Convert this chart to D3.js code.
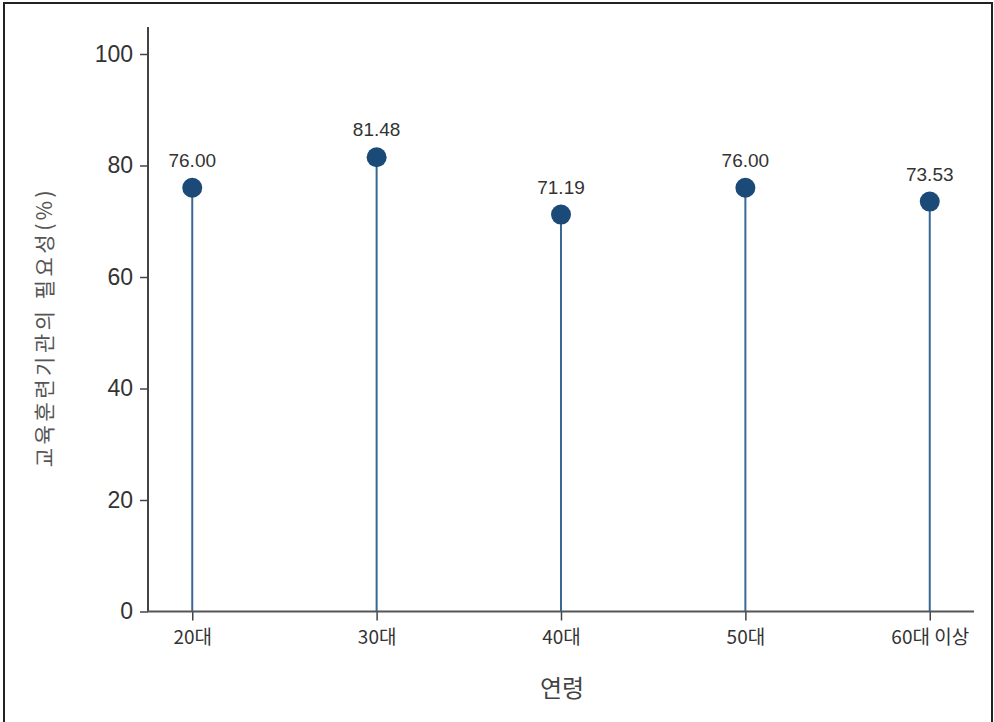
<!DOCTYPE html>
<html><head><meta charset="utf-8">
<script src="https://cdn.jsdelivr.net/npm/d3@7"></script>
<style>body{margin:0;background:#fff}svg{display:block}</style>
</head><body>
<script>
const categories = ["20대", "30대", "40대", "50대", "60대 이상"];
const values = [76.00, 81.48, 71.19, 76.00, 73.53];
const yTicks = [0, 20, 40, 60, 80, 100];
const xTitle = "연령";
const yTitle = "교육훈련기관의 필요성(%)";

const W = 994, H = 722;
const svg = d3.select("body").append("svg").attr("width", W).attr("height", H);

svg.append("rect").attr("x", 4).attr("y", 3).attr("width", 988).attr("height", 730)
  .attr("fill", "none").attr("stroke", "#222").attr("stroke-width", 2);

const x0 = 148, x1 = 974, yB = 611.5;
const y = d3.scaleLinear().domain([0, 100]).range([yB, 54]);
const x = d3.scalePoint().domain(categories).range([x0, x1]).padding(0.24);

const data = categories.map((c, i) => ({c, v: values[i]}));

// stems
svg.selectAll(".stem").data(data).join("line")
  .attr("x1", d => x(d.c)).attr("x2", d => x(d.c))
  .attr("y1", d => y(d.v)).attr("y2", yB)
  .attr("stroke", "#3a6894").attr("stroke-width", 2);

// y axis
const ya = svg.append("g").attr("transform", `translate(${x0},0)`)
  .call(d3.axisLeft(y).tickValues(yTicks).tickSize(8).tickPadding(7).tickSizeOuter(0));
ya.select(".domain").remove();
ya.selectAll("line").attr("stroke", "#444").attr("stroke-width", 1.5);
ya.selectAll("text").attr("font-family", "'Liberation Sans', Arial, sans-serif")
  .attr("font-size", 23).attr("fill", "#333");
svg.append("line").attr("x1", x0).attr("x2", x0).attr("y1", 27).attr("y2", yB)
  .attr("stroke", "#444").attr("stroke-width", 2);

// x axis
const xa = svg.append("g").attr("transform", `translate(0,${yB})`)
  .call(d3.axisBottom(x).tickSize(9).tickPadding(10).tickSizeOuter(0));
xa.select(".domain").remove();
xa.selectAll("line").attr("stroke", "#444").attr("stroke-width", 1.5);
xa.selectAll("text").attr("font-family", "'Noto Sans CJK KR', sans-serif")
  .attr("font-size", 19).attr("fill", "#333");
svg.append("line").attr("x1", x0).attr("x2", x1).attr("y1", yB).attr("y2", yB)
  .attr("stroke", "#555").attr("stroke-width", 2);

// dots
svg.selectAll(".dot").data(data).join("circle")
  .attr("cx", d => x(d.c)).attr("cy", d => y(d.v)).attr("r", 10)
  .attr("fill", "#1b4a79");

// labels
svg.selectAll(".lbl").data(data).join("text")
  .attr("x", d => x(d.c)).attr("y", d => y(d.v) - 21)
  .attr("text-anchor", "middle")
  .attr("font-family", "'Liberation Sans', Arial, sans-serif")
  .attr("font-size", 19).attr("fill", "#333")
  .text(d => d.v.toFixed(2));

// titles
svg.append("text").attr("x", 562).attr("y", 697).attr("text-anchor", "middle")
  .attr("font-family", "'Noto Sans CJK KR', sans-serif").attr("font-size", 24)
  .attr("fill", "#444").text(xTitle);
svg.append("text").attr("transform", "translate(52,327) rotate(-90)")
  .attr("text-anchor", "middle")
  .attr("font-family", "'Noto Sans CJK KR', sans-serif").attr("font-size", 21)
  .attr("letter-spacing", 3.5)
  .attr("fill", "#555").text(yTitle);
</script>
</body></html>
